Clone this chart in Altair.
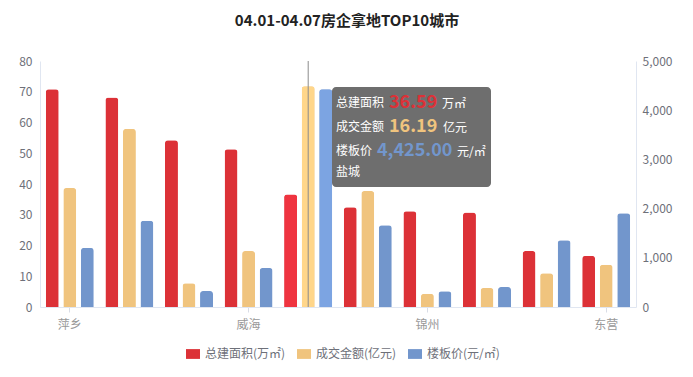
import altair as alt
import pandas as pd

# ---- data ----
cities = ['萍乡', '济南', '温州', '威海', '盐城', '嘉兴', '锦州', '合肥', '徐州', '东营']
series_names = ['总建面积(万㎡)', '成交金额(亿元)', '楼板价(元/㎡)']
area = [70.8, 68.1, 54.2, 51.3, 36.59, 32.4, 31.1, 30.7, 18.2, 16.6]        # 万㎡
amount = [38.7, 57.9, 7.7, 18.2, 71.8, 37.7, 4.3, 6.2, 11.0, 13.7]         # 亿元
price = [1200, 1755, 325, 794, 4425, 1661, 319, 406, 1355, 1905]           # 元/㎡
shown_labels = ['萍乡', '威海', '锦州', '东营']
hover_city = '盐城'
tip_labels = ['总建面积', '成交金额', '楼板价']
tip_values = ['36.59', '16.19', '4,425.00']
tip_units = ['万㎡', '亿元', '元/㎡']

colors = ['#dc3137', '#f0c47e', '#7296cc']
hi_colors = ['#ef3440', '#ffd68a', '#7ca4e2']
FONT = 'Noto Sans CJK SC'

rows = []
for i, c in enumerate(cities):
    for s, vals in zip(series_names, [area, amount, price]):
        rows.append({'city': c, 'series': s, 'value': vals[i]})
df = pd.DataFrame(rows)
df['hi'] = df['series'].map(dict(zip(series_names, hi_colors)))
df_left = df[df.series != series_names[2]]
df_right = df[df.series == series_names[2]]

W, H = 596, 246

x_enc = alt.X('city:N', sort=cities, title=None,
              scale=alt.Scale(domain=cities, paddingInner=0, paddingOuter=0),
              axis=alt.Axis(values=shown_labels, labelAngle=0, labelColor='#999999',
                            labelFontSize=12, labelFont=FONT, labelPadding=7,
                            domainColor='#e0e6f1', tickColor='#d9dde6', tickSize=5,
                            grid=False))
xo_enc = alt.XOffset('series:N', sort=series_names,
                     scale=alt.Scale(domain=series_names, paddingInner=0.26, paddingOuter=0.33))
color_enc = alt.Color('series:N', sort=series_names, title=None,
                      scale=alt.Scale(domain=series_names, range=colors),
                      legend=alt.Legend(orient='none', legendX=146, legendY=286,
                                        direction='horizontal',
                                        symbolType='M-1,-0.7H1V0.7H-1Z', symbolSize=196,
                                        symbolStrokeWidth=0, labelColor='#6e7079',
                                        labelFontSize=12, labelFont=FONT, labelOffset=5,
                                        columnPadding=11))

bar = dict(cornerRadiusTopLeft=3, cornerRadiusTopRight=3)

y_left = alt.Y('value:Q', title=None,
               scale=alt.Scale(domain=[0, 80], nice=False),
               axis=alt.Axis(orient='left', values=list(range(0, 81, 10)), ticks=False,
                             grid=False, domainColor='#e0e6f1', labelColor='#6e7079',
                             labelFontSize=12, labelFont=FONT, labelPadding=8))
y_right = alt.Y('value:Q', title=None,
                scale=alt.Scale(domain=[0, 5000], nice=False),
                axis=alt.Axis(orient='right', values=list(range(0, 5001, 1000)), format=',.0f',
                              ticks=False, grid=False, domainColor='#e0e6f1',
                              labelColor='#6e7079', labelFontSize=12, labelFont=FONT,
                              labelPadding=6))

left_bars = alt.Chart(df_left).mark_bar(**bar).encode(x=x_enc, xOffset=xo_enc, y=y_left, color=color_enc)
left_hi = alt.Chart(df_left[df_left.city == hover_city]).mark_bar(**bar).encode(
    x=x_enc, xOffset=xo_enc, y=y_left, fill=alt.Fill('hi:N', scale=None))
rule = alt.Chart(pd.DataFrame({'city': [hover_city]})).mark_rule(color='#8c8c8c', strokeWidth=1).encode(
    x=alt.X('city:N', sort=cities), y=alt.value(0), y2=alt.value(H))
left = alt.layer(left_bars, left_hi, rule)

right_bars = alt.Chart(df_right).mark_bar(**bar).encode(x=x_enc, xOffset=xo_enc, y=y_right, color=color_enc)
right_hi = alt.Chart(df_right[df_right.city == hover_city]).mark_bar(**bar).encode(
    x=x_enc, xOffset=xo_enc, y=y_right, fill=alt.Fill('hi:N', scale=None))
right = alt.layer(right_bars, right_hi)

# ---- tooltip annotation ----
one = pd.DataFrame({'k': [0]})
tip_layers = [alt.Chart(one).mark_rect(cornerRadius=4, color='#6e6e6e').encode(
    x=alt.value(292), x2=alt.value(451), y=alt.value(26), y2=alt.value(126))]
line_y = [42, 66, 90]
val_x = [349, 349, 337]
unit_x = [402, 403, 417]
for i in range(3):
    tip_layers.append(alt.Chart(one).mark_text(text=tip_labels[i], align='left', baseline='middle',
                                               color='white', fontSize=12, font=FONT).encode(
        x=alt.value(296), y=alt.value(line_y[i])))
    tip_layers.append(alt.Chart(one).mark_text(text=tip_values[i], align='left', baseline='middle',
                                               color=colors[i], fontSize=18, fontWeight='bold',
                                               font=FONT).encode(
        x=alt.value(val_x[i]), y=alt.value(line_y[i])))
    tip_layers.append(alt.Chart(one).mark_text(text=tip_units[i], align='left', baseline='middle',
                                               color='white', fontSize=12, font=FONT).encode(
        x=alt.value(unit_x[i]), y=alt.value(line_y[i] + 1)))
tip_layers.append(alt.Chart(one).mark_text(text=hover_city, align='left', baseline='middle',
                                           color='white', fontSize=12, font=FONT).encode(
    x=alt.value(296), y=alt.value(111)))
tip = alt.layer(*tip_layers)

chart = alt.layer(left, right, tip).resolve_scale(y='independent').properties(
    width=W, height=H,
    title=alt.TitleParams('04.01-04.07房企拿地TOP10城市', fontSize=15, fontWeight='bold',
                          color='#222222', font=FONT, anchor='middle', dx=9, offset=26),
    autosize=alt.AutoSizeParams(type='none'),
    padding={'left': 32, 'top': 53, 'right': 49, 'bottom': 58},
).configure_view(stroke=None)

chart.save('out.html', embed_options={'renderer': 'svg', 'actions': False})
